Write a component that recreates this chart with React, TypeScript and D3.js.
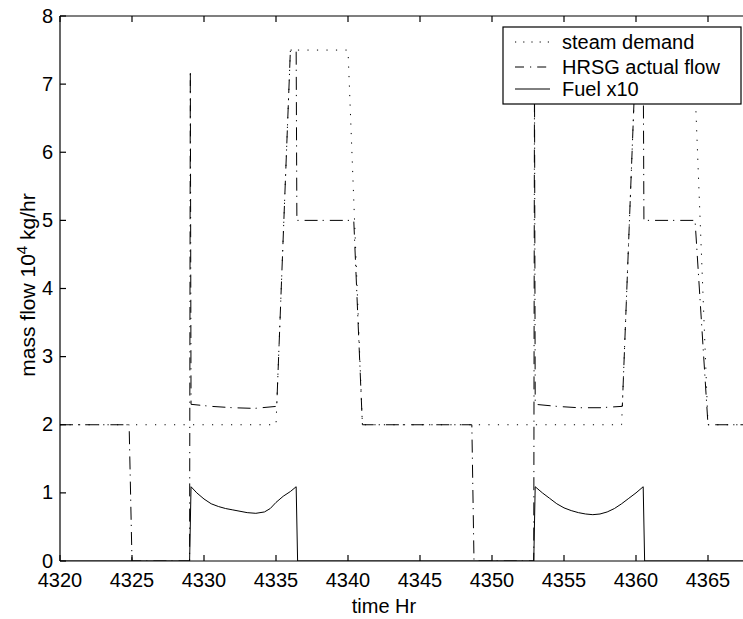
import React from "react";
import * as d3 from "d3";

// ---- data ----
const xTicks = [4320, 4325, 4330, 4335, 4340, 4345, 4350, 4355, 4360, 4365];
const yTicks = [0, 1, 2, 3, 4, 5, 6, 7, 8];

const demandTime = [4320, 4335, 4336, 4340, 4341, 4359, 4360, 4364, 4365, 4368];
const demandValue = [2, 2, 7.5, 7.5, 2, 2, 7.5, 7.5, 2, 2];

const hrsgTime = [
  4320, 4324.8, 4325.0, 4329.0, 4329.05, 4329.1, 4330.5, 4332, 4333.5, 4335.05,
  4336, 4336.4, 4336.45, 4340.4, 4341, 4348.6, 4348.75, 4352.9, 4352.95, 4353.0,
  4354.5, 4356, 4357.5, 4359.05, 4360, 4360.5, 4360.55, 4364.1, 4365, 4368,
];
const hrsgValue = [
  2, 2, 0, 0, 7.2, 2.3, 2.27, 2.25, 2.24, 2.27,
  7.5, 7.5, 5, 5, 2, 2, 0, 0, 7.2, 2.3,
  2.27, 2.25, 2.25, 2.27, 7.5, 7.5, 5, 5, 2, 2,
];

const fuelTime = [
  4320, 4329.0, 4329.1, 4329.5, 4330, 4330.5, 4331, 4331.5, 4332, 4332.5, 4333, 4333.6,
  4334.2, 4334.6, 4335, 4335.5, 4336, 4336.4, 4336.5,
  4352.9, 4353.0, 4353.5, 4354, 4354.5, 4355, 4355.5, 4356, 4356.5, 4357, 4357.5,
  4358, 4358.5, 4359, 4359.5, 4360, 4360.5, 4360.6, 4368,
];
const fuelValue = [
  0, 0, 1.09, 1.0, 0.91, 0.84, 0.8, 0.77, 0.75, 0.73, 0.71, 0.7,
  0.72, 0.77, 0.86, 0.95, 1.02, 1.09, 0,
  0, 1.09, 1.0, 0.92, 0.84, 0.78, 0.74, 0.71, 0.69, 0.68, 0.69,
  0.72, 0.77, 0.84, 0.92, 1.0, 1.09, 0, 0,
];

const legendLabels = ["steam demand", "HRSG actual flow", "Fuel x10"];

const W = 743;
const H = 619;
const m = { left: 60, top: 16, bottom: 561 };
const FONT = "'Liberation Sans', Arial, Helvetica, sans-serif";

export default function App() {
  const x = d3.scaleLinear().domain([4320, 4368]).range([m.left, m.left + 48 * 14.4]);
  const y = d3.scaleLinear().domain([0, 8]).range([m.bottom, m.top]);

  const mk = (t: number[], v: number[]) =>
    d3
      .line<number>()
      .x((_, i) => x(t[i]))
      .y((d) => y(d))(v) as string;

  const dotted = "1.2,8.3";
  const dashDot = "13,5,1.2,6";

  const right = W + 20;
  return (
    <svg
      width={W}
      height={H}
      style={{ position: "absolute", left: 0, top: 0, background: "#fff" }}
      fontFamily={FONT}
    >
      <defs>
        <clipPath id="plot">
          <rect x={m.left} y={m.top} width={right - m.left} height={m.bottom - m.top} />
        </clipPath>
      </defs>
      <rect x={0} y={0} width={W} height={H} fill="#fff" />
      <g clipPath="url(#plot)" fill="none" stroke="#000" strokeWidth={1}>
        <path d={mk(demandTime, demandValue)} strokeDasharray={dotted} />
        <path d={mk(hrsgTime, hrsgValue)} strokeDasharray={dashDot} />
        <path d={mk(fuelTime, fuelValue)} />
      </g>
      {/* axes box */}
      <g stroke="#000" strokeWidth={1.2} fill="none">
        <line x1={m.left} x2={right} y1={m.bottom} y2={m.bottom} />
        <line x1={m.left} x2={right} y1={m.top} y2={m.top} />
        <line x1={m.left} x2={m.left} y1={m.top} y2={m.bottom} />
        {xTicks.map((t) => (
          <g key={t}>
            <line x1={x(t)} x2={x(t)} y1={m.bottom} y2={m.bottom - 6} />
            <line x1={x(t)} x2={x(t)} y1={m.top} y2={m.top + 6} />
          </g>
        ))}
        {yTicks.map((t) => (
          <line key={t} x1={m.left} x2={m.left + 6} y1={y(t)} y2={y(t)} />
        ))}
      </g>
      <g fontSize={20} fill="#000">
        {xTicks.map((t) => (
          <text key={t} x={x(t)} y={587} textAnchor="middle">
            {t}
          </text>
        ))}
        {yTicks.map((t) => (
          <text key={t} x={53} y={y(t) + 6.5} textAnchor="end">
            {t}
          </text>
        ))}
        <text x={(x(4340) + x(4345)) / 2} y={613} textAnchor="middle">
          time Hr
        </text>
        <text transform={`translate(35,${285}) rotate(-90)`} textAnchor="middle" fontSize={21}>
          mass flow 10
          <tspan fontSize={15} dy={-8}>4</tspan>
          <tspan dy={8}> kg/hr</tspan>
        </text>
      </g>
      {/* legend */}
      <g>
        <rect x={503} y={27} width={238} height={77} fill="#fff" stroke="#000" strokeWidth={1.2} />
        {legendLabels.map((lab, i) => {
          const ly = [42, 67, 89][i];
          return (
            <g key={lab}>
              <line
                x1={515}
                x2={550}
                y1={ly}
                y2={ly}
                stroke="#000"
                strokeWidth={1}
                strokeDasharray={i === 0 ? "1.2,7" : i === 1 ? "9,6,1.2,6" : undefined}
              />
              <text x={562} y={ly + 7} fontSize={20} fill="#000">
                {lab}
              </text>
            </g>
          );
        })}
      </g>
    </svg>
  );
}
